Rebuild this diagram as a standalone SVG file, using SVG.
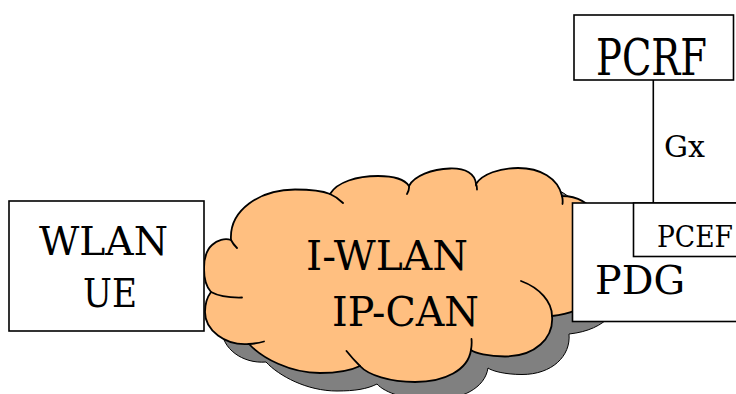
<svg xmlns="http://www.w3.org/2000/svg" width="736" height="394" viewBox="0 0 736 394">
<defs>
<style>
.box{fill:#fff;stroke:#000;stroke-width:1.6}
.crease{fill:none;stroke:#000;stroke-width:1.8;stroke-linecap:round}
.conn{stroke:#000;stroke-width:1.6;fill:none}
</style>
<path id="cloudShape" d="M231,240 C229,210 260,189.5 295,189.5 C312,189.5 324,191.5 330,194 C337,182 357,176 378,176 C394,176 405,180 409,186 C414,176 432,169 450,168.5 C466,168 475,174 476,184 C482,174 500,168 518,168 C540,168 558,178 562,196 C595,196 610,230 608,260 C606,290 590,312 552,316 C554,338 535,356.5 505,356.5 C488,356.5 475,353 471,350 C468,370 445,382 415,382 C390,382 368,375 360,366 C350,371 338,373 320,373 C290,373 262,358 249,344 C225,346 205,330 205,312 C205,302 208,296 211,292 C202,282 201,255 212,245 C217,240 225,238 231,240 Z"/>
</defs>
<rect width="736" height="394" fill="#fff"/>
<g font-family="'DejaVu Serif', serif" fill="#000">
<g id="node-cloud">
<use href="#cloudShape" transform="translate(17,18)" fill="#808080" stroke="#000" stroke-width="1"/>
<use href="#cloudShape" fill="#FFBF80" stroke="#000" stroke-width="1.8"/>
<path class="crease" d="M330,194 Q337,197 343,203 M409,186 Q409.5,190 407,194 M476,184 Q477,186 477,189.5 M562,196 Q563,200 562.5,204 M552,316 C552,302 540,288 521,281 M471,350 Q472,344 471.5,339 M360,366 Q352,358 346.5,351 M249,344 Q257,343.5 264,341.5 M211,292 Q222,298 242,297.5 M231,240 Q233,244 237,248"/>
<text x="306" y="270" font-size="41" textLength="162" lengthAdjust="spacingAndGlyphs">I-WLAN</text>
<text x="332" y="325.5" font-size="41" textLength="147" lengthAdjust="spacingAndGlyphs">IP-CAN</text>
</g>
<g id="node-ue">
<rect class="box" x="9" y="201" width="195" height="130"/>
<text x="39" y="255" font-size="40" textLength="129" lengthAdjust="spacingAndGlyphs">WLAN</text>
<text x="83" y="307" font-size="40" textLength="54" lengthAdjust="spacingAndGlyphs">UE</text>
</g>
<g id="node-pdg">
<rect class="box" x="572.5" y="203" width="175" height="118.5"/>
<text x="595" y="294" font-size="40" textLength="90" lengthAdjust="spacingAndGlyphs">PDG</text>
</g>
<g id="node-pcef">
<rect class="box" x="633.5" y="203" width="115" height="53.5"/>
<text x="657" y="246.5" font-size="29.5" textLength="76" lengthAdjust="spacingAndGlyphs">PCEF</text>
</g>
<g id="node-pcrf">
<rect class="box" x="574" y="15" width="159.5" height="65"/>
<text x="596" y="74.5" font-size="51" textLength="111" lengthAdjust="spacingAndGlyphs">PCRF</text>
</g>
<g id="connectors">
<line class="conn" x1="653.3" y1="80" x2="653.3" y2="203"/>
<text x="664" y="157" font-size="30" textLength="41" lengthAdjust="spacingAndGlyphs">Gx</text>
</g>
</g>
</svg>
